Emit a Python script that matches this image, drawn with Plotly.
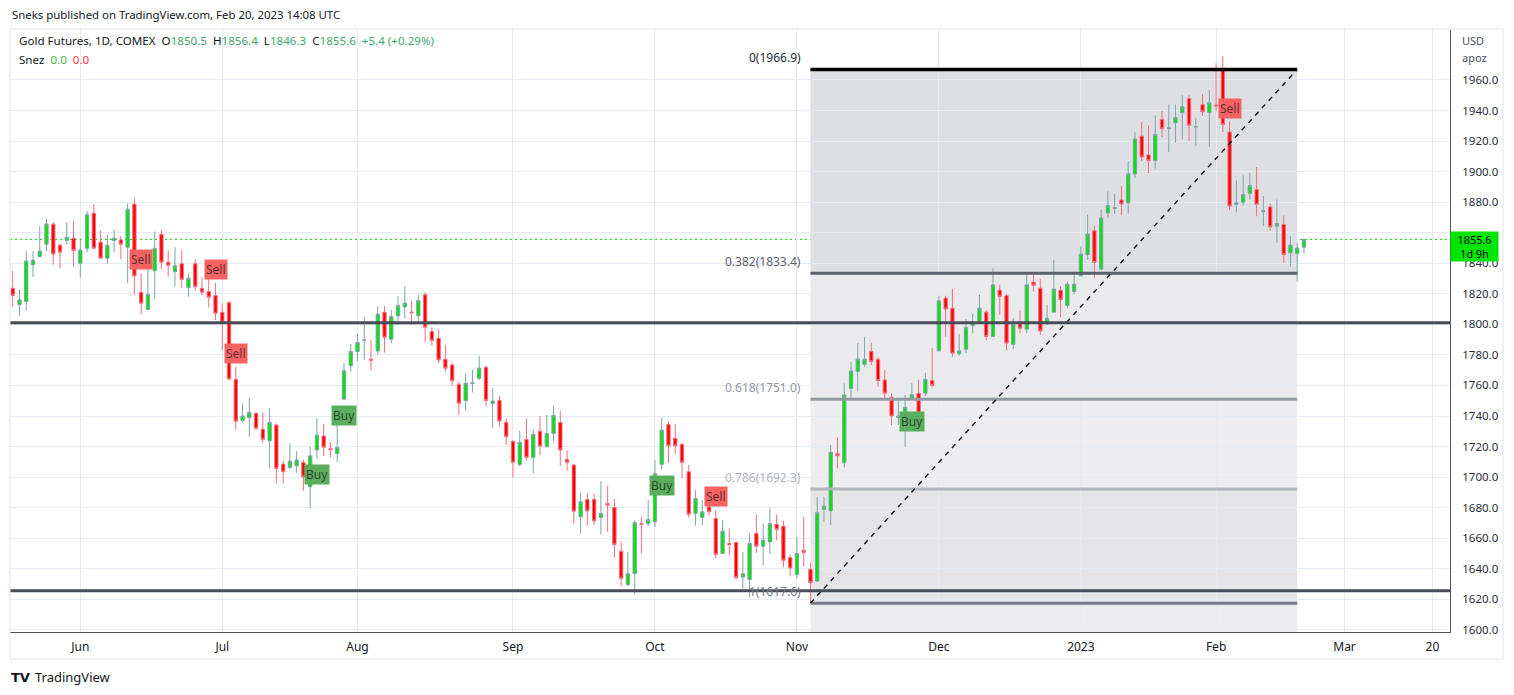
import pandas as pd
import plotly.graph_objects as go

# Trading calendar of the COMEX daily bars (weekdays without a bar)
HOLIDAYS = ["2022-05-30", "2022-06-20", "2022-07-04", "2022-09-05", "2022-11-24",
            "2022-12-26", "2023-01-02", "2023-01-16", "2023-02-20"]
dates = pd.bdate_range("2022-05-17", "2023-02-21", freq="C", holidays=HOLIDAYS)

opens = [
    1823.6, 1813.0, 1815.0, 1839.0, 1844.4, 1852.5, 1865.6, 1851.8, 1855.0, 1856.4,
    1840.0, 1849.8, 1872.8, 1853.8, 1843.3, 1854.9, 1855.3, 1850.5, 1878.7, 1821.0,
    1809.8, 1835.2, 1859.0, 1840.7, 1834.5, 1839.6, 1824.0, 1839.6, 1823.6, 1821.4,
    1818.8, 1807.9, 1814.2, 1764.0, 1737.0, 1738.9, 1741.7, 1731.3, 1723.8, 1734.1,
    1708.5, 1706.3, 1707.4, 1709.6, 1693.7, 1717.7, 1726.9, 1718.6, 1715.5, 1751.1,
    1773.0, 1782.2, 1789.4, 1777.2, 1782.6, 1808.0, 1790.3, 1805.6, 1811.3, 1808.0,
    1805.6, 1819.3, 1795.3, 1790.9, 1777.2, 1773.4, 1760.8, 1750.1, 1761.2, 1764.7,
    1771.9, 1748.3, 1750.3, 1735.8, 1723.4, 1708.3, 1724.7, 1712.9, 1730.0, 1719.9,
    1728.6, 1735.8, 1711.6, 1707.9, 1674.0, 1685.4, 1685.4, 1673.6, 1682.7, 1680.1,
    1651.5, 1629.6, 1636.8, 1669.4, 1669.6, 1670.7, 1708.3, 1734.5, 1725.4, 1721.4,
    1703.5, 1676.2, 1673.6, 1680.5, 1672.9, 1650.0, 1656.5, 1657.2, 1634.6, 1632.9,
    1663.1, 1654.8, 1657.6, 1669.2, 1667.9, 1647.3, 1636.2, 1652.1, 1639.7, 1632.0,
    1678.8, 1677.9, 1715.5, 1709.4, 1758.1, 1769.1, 1773.9, 1782.2, 1777.2, 1763.6,
    1752.2, 1739.1, 1742.2, 1751.1, 1754.9, 1754.9, 1763.2, 1782.8, 1817.2, 1810.6,
    1780.7, 1783.7, 1799.2, 1801.9, 1808.0, 1792.0, 1822.4, 1818.7, 1787.0, 1801.4,
    1796.8, 1827.7, 1823.7, 1800.3, 1808.0, 1822.4, 1812.4, 1821.5, 1831.8, 1845.6,
    1861.3, 1836.2, 1872.9, 1876.0, 1881.4, 1879.5, 1898.5, 1923.2, 1910.9, 1907.2,
    1934.2, 1928.3, 1932.0, 1938.6, 1947.8, 1929.2, 1943.8, 1938.6, 1943.6, 1966.6,
    1925.9, 1878.5, 1880.0, 1885.7, 1888.3, 1874.0, 1876.9, 1864.3, 1865.4, 1846.8,
    1846.3, 1850.5]
highs = [
    1835.0, 1823.0, 1848.0, 1848.0, 1864.5, 1869.0, 1867.0, 1853.0, 1867.0, 1867.8,
    1856.4, 1874.3, 1878.7, 1861.2, 1858.6, 1862.3, 1858.0, 1879.3, 1882.6, 1833.4,
    1845.5, 1860.8, 1861.9, 1848.7, 1850.5, 1848.7, 1833.4, 1842.6, 1830.8, 1835.2,
    1827.0, 1813.8, 1815.3, 1772.2, 1748.3, 1752.0, 1742.8, 1742.2, 1745.0, 1735.2,
    1711.0, 1722.0, 1717.0, 1711.2, 1719.9, 1738.5, 1734.8, 1723.0, 1742.8, 1774.5,
    1787.2, 1793.6, 1805.0, 1789.8, 1812.0, 1812.0, 1809.5, 1818.3, 1824.8, 1815.4,
    1819.3, 1821.0, 1798.1, 1796.8, 1786.6, 1775.0, 1762.5, 1768.0, 1770.2, 1779.3,
    1772.8, 1758.1, 1753.1, 1738.5, 1724.3, 1730.2, 1738.0, 1731.3, 1740.0, 1740.7,
    1746.6, 1743.3, 1717.7, 1708.5, 1690.0, 1689.3, 1689.3, 1697.4, 1694.3, 1685.6,
    1657.6, 1651.0, 1671.8, 1674.0, 1685.0, 1711.1, 1739.1, 1736.7, 1734.8, 1722.5,
    1707.9, 1691.5, 1684.9, 1688.0, 1678.4, 1671.8, 1666.3, 1657.6, 1651.0, 1663.5,
    1675.5, 1669.6, 1679.5, 1675.5, 1671.4, 1649.5, 1660.9, 1674.0, 1643.8, 1687.1,
    1687.1, 1721.0, 1726.0, 1761.4, 1775.6, 1787.7, 1791.6, 1788.1, 1778.3, 1770.2,
    1754.9, 1750.9, 1753.8, 1761.4, 1763.6, 1768.4, 1784.4, 1818.7, 1818.7, 1823.3,
    1793.8, 1803.4, 1806.9, 1819.3, 1809.5, 1836.8, 1825.9, 1820.0, 1804.0, 1809.0,
    1832.5, 1834.0, 1829.6, 1812.8, 1842.3, 1824.8, 1828.1, 1832.5, 1851.0, 1871.8,
    1864.6, 1875.1, 1887.1, 1885.6, 1890.8, 1906.8, 1925.8, 1932.4, 1930.2, 1936.7,
    1939.7, 1944.0, 1944.0, 1950.0, 1950.0, 1935.3, 1950.6, 1953.4, 1970.9, 1975.7,
    1932.5, 1894.2, 1897.5, 1899.2, 1903.0, 1884.0, 1879.1, 1881.7, 1871.3, 1857.7,
    1853.3, 1856.4]
lows = [
    1811.6, 1805.7, 1809.0, 1831.0, 1843.7, 1847.7, 1839.0, 1836.7, 1852.5, 1837.8,
    1830.8, 1847.0, 1849.8, 1843.3, 1839.6, 1847.0, 1842.6, 1827.0, 1819.2, 1806.6,
    1809.8, 1817.0, 1836.3, 1831.3, 1824.7, 1824.0, 1818.1, 1821.9, 1819.2, 1811.0,
    1802.8, 1783.0, 1763.5, 1731.0, 1735.6, 1726.4, 1730.8, 1722.5, 1705.7, 1695.8,
    1695.8, 1705.0, 1702.8, 1691.0, 1679.5, 1712.2, 1713.8, 1713.0, 1710.0, 1750.5,
    1769.0, 1776.0, 1776.7, 1770.0, 1780.0, 1781.5, 1787.6, 1799.7, 1804.0, 1799.7,
    1800.8, 1788.3, 1786.0, 1774.5, 1769.0, 1759.7, 1740.7, 1743.5, 1755.3, 1763.6,
    1746.8, 1731.9, 1733.4, 1721.0, 1699.8, 1706.8, 1711.1, 1702.4, 1714.4, 1719.9,
    1723.2, 1707.4, 1704.2, 1669.6, 1663.1, 1668.1, 1668.5, 1662.4, 1664.2, 1647.3,
    1628.5, 1628.7, 1623.1, 1650.0, 1668.1, 1667.4, 1705.0, 1709.4, 1715.1, 1699.1,
    1673.6, 1668.1, 1668.5, 1675.0, 1646.7, 1649.5, 1648.9, 1632.9, 1627.0, 1621.5,
    1650.4, 1642.3, 1649.5, 1658.7, 1640.8, 1635.1, 1633.6, 1641.6, 1617.6, 1631.4,
    1670.7, 1668.5, 1705.7, 1706.3, 1750.9, 1756.0, 1772.3, 1773.4, 1759.2, 1750.1,
    1734.1, 1734.1, 1719.9, 1750.5, 1739.1, 1753.1, 1758.8, 1782.2, 1792.0, 1778.9,
    1779.6, 1781.1, 1794.2, 1800.3, 1789.4, 1792.0, 1806.2, 1782.8, 1784.0, 1794.2,
    1794.2, 1821.5, 1793.1, 1799.7, 1808.0, 1804.7, 1810.6, 1819.8, 1831.4, 1842.3,
    1830.3, 1835.7, 1869.6, 1872.5, 1871.4, 1872.5, 1895.8, 1906.8, 1899.1, 1902.0,
    1922.6, 1912.8, 1918.9, 1921.1, 1920.0, 1916.7, 1936.4, 1916.3, 1939.7, 1925.9,
    1874.8, 1873.4, 1877.8, 1881.7, 1870.8, 1864.3, 1861.4, 1853.3, 1840.2, 1837.6,
    1828.2, 1846.3]
closes = [
    1818.8, 1816.0, 1841.5, 1842.0, 1848.0, 1865.8, 1846.0, 1847.2, 1857.0, 1848.3,
    1848.7, 1871.7, 1849.8, 1843.3, 1851.8, 1856.4, 1852.5, 1875.4, 1831.7, 1813.8,
    1819.7, 1849.8, 1840.7, 1838.7, 1838.3, 1829.5, 1830.2, 1824.7, 1821.0, 1817.7,
    1807.2, 1801.3, 1764.2, 1736.6, 1740.0, 1742.4, 1731.9, 1724.7, 1735.8, 1705.7,
    1703.5, 1710.5, 1711.2, 1700.2, 1713.8, 1727.5, 1719.5, 1718.0, 1719.5, 1769.7,
    1782.2, 1788.1, 1789.8, 1776.5, 1806.7, 1791.6, 1805.1, 1812.4, 1813.9, 1807.6,
    1815.6, 1798.1, 1789.4, 1776.7, 1771.3, 1763.0, 1748.3, 1761.4, 1761.6, 1771.3,
    1750.1, 1749.8, 1736.7, 1726.4, 1709.6, 1722.7, 1712.9, 1728.0, 1720.3, 1728.6,
    1740.4, 1717.7, 1709.6, 1677.7, 1683.8, 1677.9, 1671.4, 1676.2, 1681.6, 1655.8,
    1633.6, 1636.8, 1670.3, 1669.0, 1672.2, 1702.4, 1730.8, 1720.5, 1720.5, 1709.6,
    1675.7, 1686.0, 1677.3, 1677.3, 1649.3, 1664.6, 1655.9, 1634.2, 1636.8, 1656.5,
    1654.8, 1658.7, 1669.6, 1665.7, 1645.6, 1640.5, 1650.0, 1650.6, 1630.9, 1676.8,
    1681.0, 1716.2, 1714.0, 1753.8, 1769.5, 1777.2, 1777.2, 1775.6, 1763.2, 1754.9,
    1740.0, 1740.0, 1745.7, 1754.1, 1740.7, 1764.0, 1760.0, 1815.4, 1810.0, 1781.1,
    1782.6, 1798.1, 1801.4, 1810.6, 1792.0, 1825.9, 1818.3, 1787.7, 1800.1, 1797.5,
    1825.9, 1825.5, 1795.7, 1804.0, 1823.1, 1816.1, 1826.3, 1826.3, 1846.0, 1859.1,
    1840.5, 1869.6, 1877.7, 1876.4, 1878.8, 1898.5, 1921.4, 1909.6, 1907.2, 1924.3,
    1928.1, 1928.6, 1935.3, 1942.5, 1930.3, 1929.4, 1939.2, 1945.1, 1943.0, 1930.9,
    1877.4, 1879.6, 1885.0, 1890.9, 1878.5, 1874.3, 1863.8, 1866.0, 1845.7, 1851.8,
    1850.0, 1855.6]

# Buy / Sell labels of the "Snez" indicator
signal_dates = ["2022-06-14", "2022-06-30", "2022-07-06", "2022-07-22", "2022-07-28",
                "2022-10-04", "2022-10-14", "2022-11-25", "2023-02-03"]
signal_prices = [1842.3, 1836.0, 1780.7, 1702.0, 1740.3, 1694.4, 1687.2, 1736.4, 1941.3]
signal_text = ["Sell", "Sell", "Sell", "Buy", "Buy", "Buy", "Sell", "Buy", "Sell"]

# Fibonacci retracement drawing
fib_start, fib_end = "2022-11-03", "2023-02-17"
fib_high, fib_low = 1966.9, 1617.5
fib_levels = [0, 0.382, 0.618, 0.786, 1]
fib_labels = ["0(1966.9)", "0.382(1833.4)", "0.618(1751.0)", "0.786(1692.3)", "1(1617.6)"]
fib_line_colors = ["#000000", "#5d606b", "#9598a1", "#b2b5be", "#787b86"]
fib_zone_colors = ["#dedfe2", "#eaeaed", "#ededf0", "#e5e5e8", "#ececef"]

# horizontal levels drawn across the chart
h_levels = [1801.0, 1625.6]
last_price = 1855.6
countdown = "1d 9h"

tick_dates = ["2022-06-01", "2022-07-01", "2022-08-01", "2022-09-01", "2022-10-03",
              "2022-11-01", "2022-12-01", "2023-01-03", "2023-02-01", "2023-03-01",
              "2023-03-20"]
tick_text = ["Jun", "Jul", "Aug", "Sep", "Oct", "Nov", "Dec", "2023", "Feb", "Mar", "20"]
price_ticks = list(range(1600, 1961, 20))

GRID = "#e4ebf2"
TEXT = "#131722"
UP = "#3ea86e"
FONT = "Noto Sans, Open Sans, sans-serif"


def px_x(px):
    return (px - 10) / 1440


def px_y(py):
    return (632 - py) / 602


fig = go.Figure()
fig.add_trace(go.Candlestick(
    x=dates, open=opens, high=highs, low=lows, close=closes,
    increasing=dict(fillcolor="#00e600", line=dict(color="#7ea4aa", width=1)),
    decreasing=dict(fillcolor="#ff0000", line=dict(color="#f0707d", width=1)),
    showlegend=False))

shapes = []
# fib zones
prices = [fib_high - lv * (fib_high - fib_low) for lv in fib_levels]
bounds = prices + [1590]
for i in range(len(prices)):
    shapes.append(dict(type="rect", xref="x", yref="y", x0=fib_start, x1=fib_end,
                       y0=bounds[i + 1], y1=bounds[i], fillcolor=fib_zone_colors[i],
                       line=dict(width=0), layer="below"))
for p, c in zip(prices, fib_line_colors):
    shapes.append(dict(type="line", xref="x", yref="y", x0=fib_start, x1=fib_end,
                       y0=p, y1=p, line=dict(color=c, width=3.5 if c == "#000000" else 3)))
shapes.append(dict(type="line", xref="x", yref="y", x0=fib_start, x1=fib_end,
                   y0=fib_low, y1=fib_high, line=dict(color="#111111", width=1.4, dash="5px,5px")))
for h in h_levels:
    shapes.append(dict(type="line", xref="paper", yref="y", x0=0, x1=1, y0=h, y1=h,
                       line=dict(color="#4a4d57", width=3)))
shapes.append(dict(type="line", xref="paper", yref="y", x0=0, x1=1, y0=last_price, y1=last_price,
                   line=dict(color="#00dd00", width=1, dash="2px,3px"), layer="below"))
# chart frame
shapes.append(dict(type="rect", xref="paper", yref="paper", x0=0, x1=px_x(1503),
                   y0=px_y(659), y1=px_y(29), line=dict(color="#e0e3eb", width=1)))

ann = []
ann.append(dict(xref="paper", yref="paper", x=px_x(10), y=px_y(15), xanchor="left", yanchor="middle",
                text="Sneks published on TradingView.com, Feb 20, 2023 14:08 UTC",
                showarrow=False, font=dict(size=11.4, color=TEXT)))
g = lambda s: f"<span style='color:{UP}'>{s}</span>"
ann.append(dict(xref="paper", yref="paper", x=px_x(17), y=px_y(41), xanchor="left", yanchor="middle",
                text=f"Gold Futures, 1D, COMEX  O{g('1850.5')}  H{g('1856.4')}  L{g('1846.3')}"
                     f"  C{g('1855.6')}  {g('+5.4 (+0.29%)')}",
                showarrow=False, font=dict(size=11.6, color=TEXT)))
ann.append(dict(xref="paper", yref="paper", x=px_x(17), y=px_y(59), xanchor="left", yanchor="middle",
                text="Snez  <span style='color:#4caf50'>0.0</span>  <span style='color:#f23645'>0.0</span>",
                showarrow=False, font=dict(size=11.6, color=TEXT)))
for lab, p, c in zip(fib_labels, prices, fib_line_colors):
    ann.append(dict(x=fib_start, y=p, xref="x", yref="y", xanchor="right", yanchor="bottom",
                    text=lab, showarrow=False, xshift=-7, yshift=1,
                    font=dict(size=12, color="#2a2e39" if c == "#000000" else c)))
for d, p, t in zip(signal_dates, signal_prices, signal_text):
    ann.append(dict(x=d, y=p, xref="x", yref="y", text=t, showarrow=False,
                    bgcolor="#f86262" if t == "Sell" else "#5aae5e", borderpad=1,
                    font=dict(size=12, color="rgba(30,30,30,0.75)")))
ann.append(dict(xref="paper", yref="paper", x=px_x(1460), y=px_y(40), xanchor="left", yanchor="middle",
                text="USD", showarrow=False, font=dict(size=11, color="#50535e")))
ann.append(dict(xref="paper", yref="paper", x=px_x(1460), y=px_y(57), xanchor="left", yanchor="middle",
                text="apoz", showarrow=False, font=dict(size=11, color="#50535e")))
# last price label on the price axis (drawn over the tick labels)
ann.append(dict(xref="paper", yref="y", x=1.0, y=last_price, xanchor="left", yanchor="top",
                text=f"{last_price:.1f}<br>{countdown}", align="center", showarrow=False,
                yshift=8.5, width=47, height=29, borderpad=0, bgcolor="#00e600",
                font=dict(size=10.8, color="#000000")))
ann.append(dict(xref="paper", yref="paper", x=px_x(9), y=px_y(677), xanchor="left", yanchor="middle",
                text="<b>TV</b>", showarrow=False, font=dict(size=13, color="#131722", family="DejaVu Sans")))
ann.append(dict(xref="paper", yref="paper", x=px_x(33), y=px_y(677), xanchor="left", yanchor="middle",
                text="TradingView", showarrow=False, font=dict(size=13, color="#131722")))

fig.update_layout(
    width=1514, height=695,
    margin=dict(l=10, r=64, t=30, b=63),
    paper_bgcolor="white", plot_bgcolor="rgba(0,0,0,0)",
    font=dict(family=FONT, size=12, color=TEXT),
    shapes=shapes, annotations=ann, showlegend=False,
    xaxis=dict(type="date", range=["2022-05-16 14:24", "2023-03-22 14:24"],
               rangebreaks=[dict(bounds=["sat", "mon"]), dict(values=HOLIDAYS)],
               tickvals=tick_dates, ticktext=tick_text, tickangle=0,
               showgrid=True, gridcolor=GRID, gridwidth=1, showline=True,
               linecolor="#50535e", linewidth=1, ticks="", ticklabelstandoff=4,
               rangeslider=dict(visible=False), tickfont=dict(size=12, color=TEXT)),
    yaxis=dict(side="right", range=[1598.6, 1992.7], tickvals=price_ticks,
               ticktext=["" if v == 1860 else f"{v:.1f}" for v in price_ticks],
               showgrid=True, gridcolor=GRID, gridwidth=1, zeroline=False, showline=True,
               linecolor="#50535e", linewidth=1, ticks="", ticklabelstandoff=9,
               tickfont=dict(size=11.5, color="#2a2e39")),
)

fig.write_html("out.html", config={"displayModeBar": False},
               post_script="document.body.style.margin='0';document.body.style.overflow='hidden';")
